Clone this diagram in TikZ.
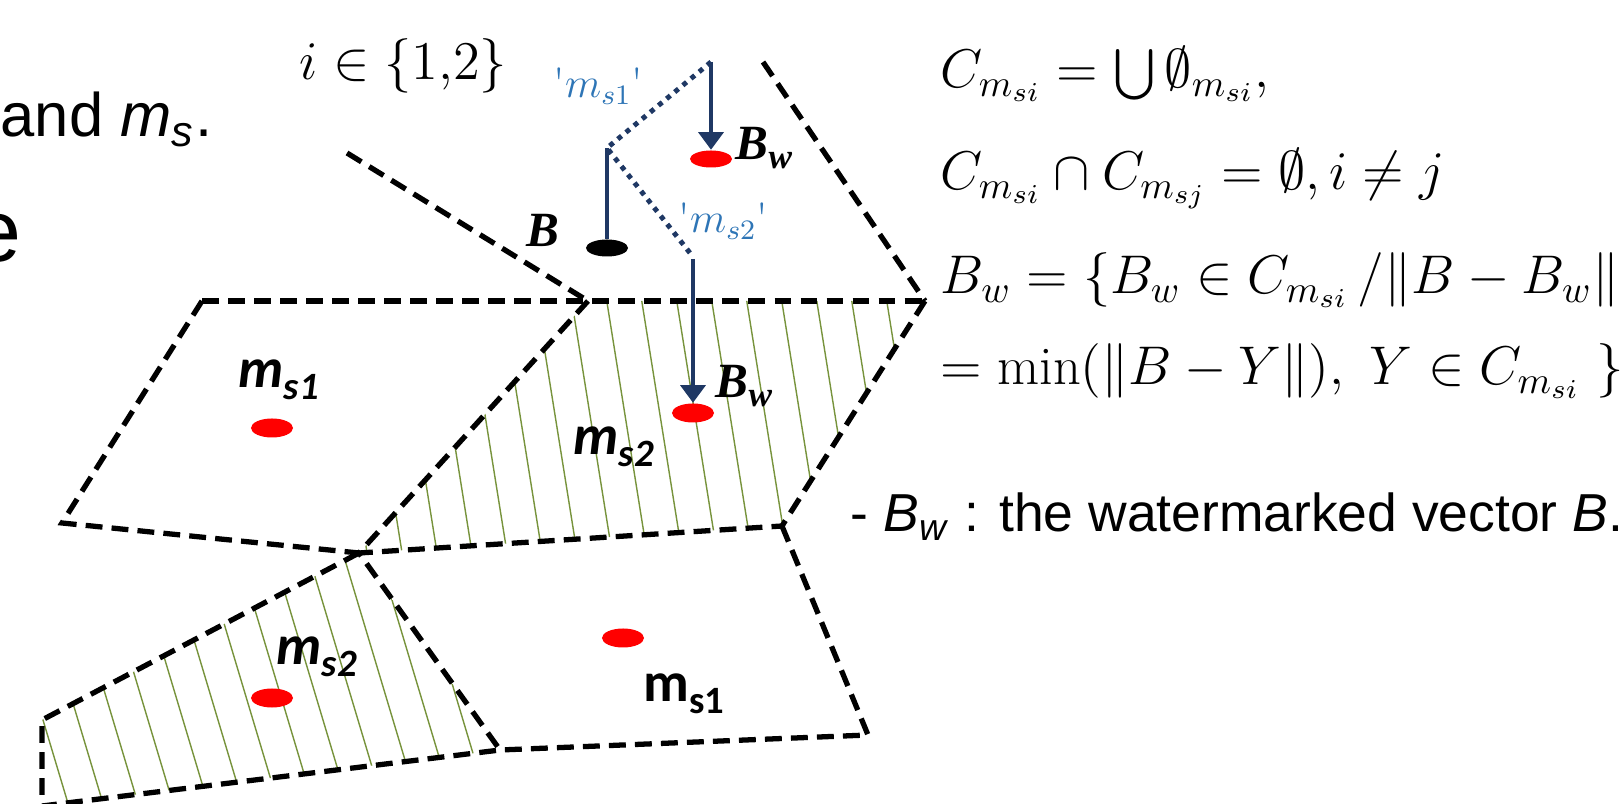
\RequirePackage{fix-cm}
\documentclass[tikz,border=0pt]{standalone}
\usepackage{amsmath}
\usepackage{fontspec}
\usepackage{tikz}
\usetikzlibrary{positioning}
\usetikzlibrary{arrows.meta}
\usetikzlibrary{shapes.geometric}

\newfontfamily\arialfont{Liberation Sans}
\newfontfamily\calfont{Carlito}
\newfontfamily\timesfont{Liberation Serif}

\definecolor{navyline}{RGB}{31,56,100}
\definecolor{labelblue}{RGB}{46,117,182}
\definecolor{hatchgreen}{RGB}{119,147,60}

% indici abbassati per le etichette delle celle
\newcommand{\msub}[2]{#1\raisebox{-3.2pt}{\fontsize{11}{12}\selectfont #2}}
\newcommand{\wsub}[2]{#1\raisebox{-2.4pt}{\fontsize{10}{11}\selectfont #2}}

\begin{document}
\begin{tikzpicture}[x=0.01cm, y=-0.01cm,
  celledge/.style={line width=1.5pt, dash pattern=on 4.8pt off 2.6pt},
  hatchline/.style={hatchgreen, line width=0.4pt},
  reddot/.style={ellipse, fill=red, inner sep=0pt, minimum width=0.42cm, minimum height=0.19cm},
  blackdot/.style={ellipse, fill=black, inner sep=0pt, minimum width=0.42cm, minimum height=0.17cm},
  navyarrow/.style={navyline, line width=1.4pt, -{Triangle[length=5pt, width=7pt]}},
  navystem/.style={navyline, line width=1.4pt},
  navydots/.style={navyline, line width=1.4pt, dash pattern=on 1.4pt off 1.6pt},
  celllabel/.style={inner sep=0pt, anchor=base west, font=\calfont\bfseries\itshape\fontsize{16}{19}\selectfont},
  serlabel/.style={inner sep=0pt, anchor=base west, font=\timesfont\bfseries\itshape\fontsize{14}{16}\selectfont},
  bluelabel/.style={inner sep=0pt, anchor=base west, text=labelblue, font=\fontsize{12}{14}\selectfont},
  eqtext/.style={inner sep=0pt, anchor=base west, font=\fontsize{15.5}{18}\selectfont},
  slidetext/.style={inner sep=0pt, font=\arialfont\fontsize{17.5}{20}\selectfont}]
  \useasboundingbox (0,0) rectangle (1621,804);

  % Vertici delle celle
  \coordinate (p1) at (202,301);
  \coordinate (p2) at (62,523);
  \coordinate (v3) at (359,553);
  \coordinate (v1) at (588,301);
  \coordinate (v2) at (925,301);
  \coordinate (v4) at (782,526);
  \coordinate (v5) at (500,750);
  \coordinate (p6) at (868,735);
  \coordinate (p7) at (42,720);
  \coordinate (p8) at (42,806);
  \coordinate (q1) at (347,153);
  \coordinate (q2) at (763,62);

  % Tratteggio delle celle m_s2
  \begin{scope}
    \clip (v1) -- (v2) -- (v4) -- (v3) -- cycle;
    \foreach \k in {-9,...,10}
      \draw[hatchline] ({605+35*\k},290) -- ({605+35*\k+0.16*280},570);
  \end{scope}
  \begin{scope}
    \clip (v3) -- (v5) -- (p8) -- (p7) -- cycle;
    \foreach \k in {-9,...,6}
      \draw[hatchline] ({234+35*\k},540) -- ({234+35*\k+0.3*280},820);
  \end{scope}

  % Bordi tratteggiati
  \draw[celledge] (q1) -- (v1);
  \draw[celledge] (q2) -- (v2);
  \draw[celledge] (p1) -- (v2);
  \draw[celledge] (p1) -- (p2) -- (v3) -- (v1);
  \draw[celledge] (v2) -- (v4) -- (v3);
  \draw[celledge] (v4) -- (p6) -- (v5) -- (v3);
  \draw[celledge] (v3) -- (p7) -- (p8) -- (v5);

  % Punti
  \node[reddot] (d1) at (272,428) {};
  \node[reddot] (d2) at (693,413) {};
  \node[reddot, minimum height=0.17cm] (d3) at (711,159) {};
  \node[reddot] (d4) at (623,638) {};
  \node[reddot] (d5) at (272,698) {};
  \node[blackdot] (b) at (607,248) {};

  % Percorsi di quantizzazione
  \coordinate (a1) at (711,62);
  \coordinate (fork) at (607,148);
  \coordinate (t2) at (690,253);
  \coordinate (a2) at (693,259);
  \draw[navydots] (a1) -- (fork) -- (t2);
  \draw[navystem] (fork) -- (b.north);
  \draw[navyarrow] (a1) -- (d3.north);
  \draw[navyarrow] (a2) -- (d2.north);

  % Etichette
  \node[celllabel] (l1) at (238,388) {\msub{m}{s1}};
  \node[celllabel] (l2) at (573,455) {\msub{m}{s2}};
  \node[celllabel] (l3) at (276,665) {\msub{m}{s2}};
  \node[celllabel, font=\calfont\bfseries\fontsize{16}{19}\selectfont] (l4) at (643,702) {\msub{m}{s1}};
  \node[serlabel] (lb) at (526,247) {B};
  \node[serlabel] (lw1) at (735,160) {\wsub{B}{w}};
  \node[serlabel] (lw2) at (715,398) {\wsub{B}{w}};
  \node[bluelabel] (q1lab) at (553,98) {\textquotesingle$m_{s1}$\textquotesingle};
  \node[bluelabel] (q2lab) at (678,233) {\textquotesingle$m_{s2}$\textquotesingle};

  % Testi
  \node[slidetext, anchor=base west] (t1) at (0,137) {and \textit{m}\textsubscript{\textit{s}}.};
  \node[slidetext, anchor=base east, font=\arialfont\fontsize{25}{30}\selectfont] (t0) at (22,262) {e};
  \node[eqtext] (iset) at (299,80) {$i \in \{1{,}2\}$};
  \node[eqtext] (e1) at (940,88) {$C_{m_{si}} = \bigcup \emptyset_{m_{si}},$};
  \node[eqtext] (e2) at (940,190) {$C_{m_{si}} \cap C_{m_{sj}} = \emptyset, i \neq j$};
  \node[eqtext] (e3) at (940,294) {$B_w = \{B_w \in C_{m_{si}}\,/\|B - B_w\|$};
  \node[eqtext] (e4) at (940,385) {$= \min(\|B - Y\|),\ Y \in C_{m_{si}}\ \}$};
  \node[slidetext, anchor=base west, font=\arialfont\fontsize{15.2}{18}\selectfont] (note) at (850,532)
    {- \textit{B}\textsubscript{\textit{w}} : the watermarked vector \textit{B}.};
\end{tikzpicture}
\end{document}
